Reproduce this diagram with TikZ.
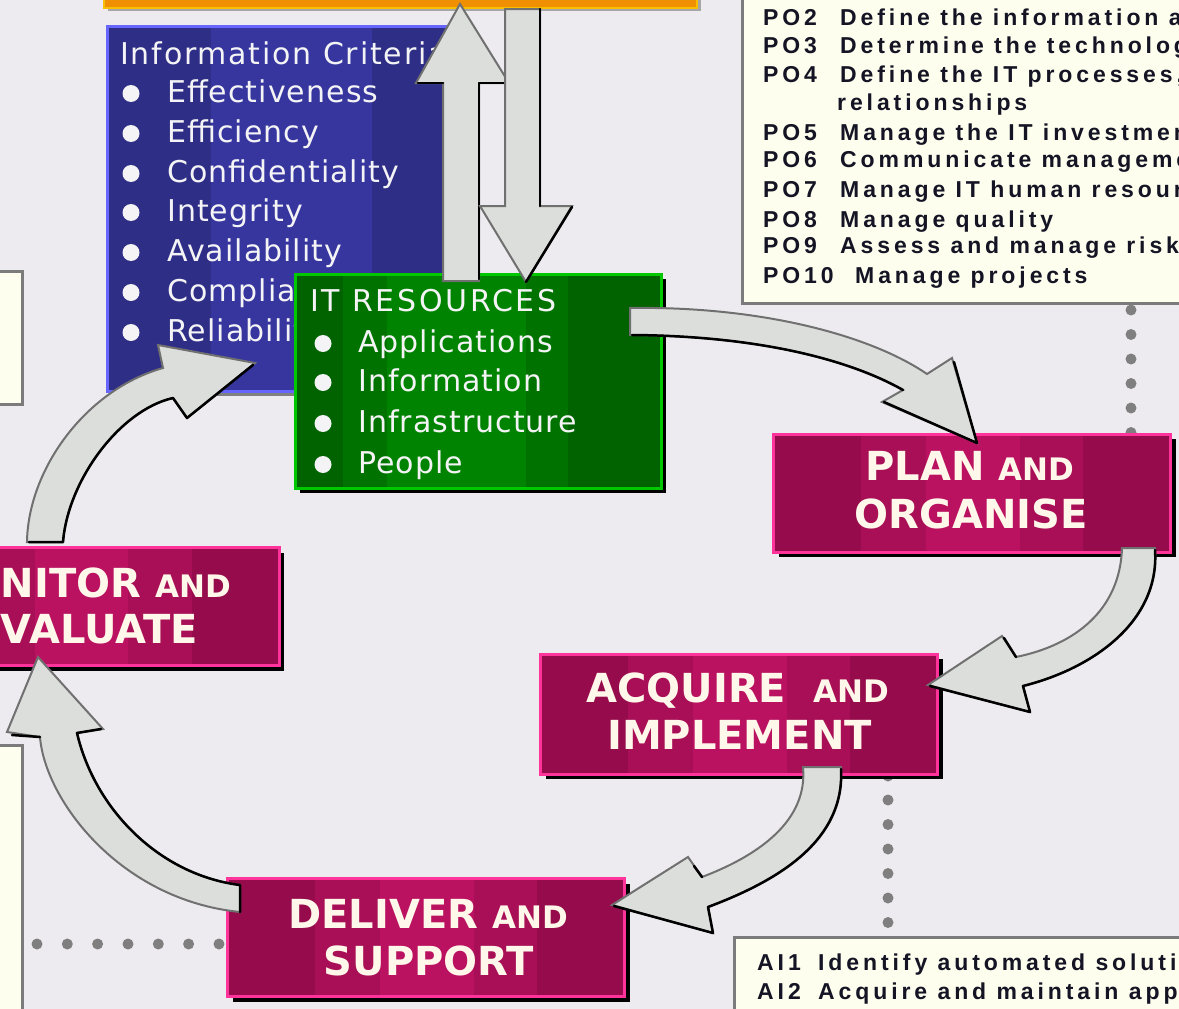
\documentclass[tikz,border=0pt]{standalone}
\usepackage{fontspec}
\setmainfont{DejaVu Sans}
\newfontfamily\dejavu[LetterSpace=3.5]{DejaVu Sans}
\newfontfamily\dejavuwide[LetterSpace=6]{DejaVu Sans}
\newfontfamily\dejavucaps[LetterSpace=9]{DejaVu Sans}
\newfontfamily\dejavuhead{DejaVu Sans}
\newfontfamily\libsans[LetterSpace=17]{Liberation Sans}
\usetikzlibrary{shadows,calc}
\definecolor{bg}{HTML}{EDEBEF}
\definecolor{cream}{HTML}{FDFEEE}
\definecolor{boxline}{HTML}{7B7B7B}
\definecolor{magdark}{HTML}{960B4C}
\definecolor{magmid}{HTML}{A80F56}
\definecolor{maglight}{HTML}{BA1160}
\definecolor{magline}{HTML}{FF3399}
\definecolor{grndark}{HTML}{006300}
\definecolor{grnmid}{HTML}{007200}
\definecolor{grnlight}{HTML}{008300}
\definecolor{grnline}{HTML}{00C800}
\definecolor{bludark}{HTML}{2E2E86}
\definecolor{blulight}{HTML}{36369E}
\definecolor{bluline}{HTML}{6666FF}
\definecolor{arrfill}{HTML}{DCDEDB}
\definecolor{arredge}{HTML}{707070}
\definecolor{dotgray}{HTML}{7F7F7F}
\definecolor{orng}{HTML}{F09000}
\definecolor{orngline}{HTML}{F8C000}
\definecolor{txtcream}{HTML}{FFF8EA}
\definecolor{listwhite}{HTML}{F4F4F6}
\definecolor{potext}{HTML}{141424}
\newcommand\listfont{\dejavu\fontsize{30}{36}\selectfont}
\newcommand\headfont{\dejavuhead\bfseries\fontsize{40}{48}\selectfont}
\newcommand\smallcp[1]{{\fontsize{31}{36}\selectfont #1}}
\newcommand\pofont{\libsans\bfseries\fontsize{23}{27}\selectfont}
\tikzset{
  bands/.style n args={7}{fill=#1, path picture={
    \fill[#2] ($(path picture bounding box.south west)!#4!(path picture bounding box.south east)$)
      rectangle ($(path picture bounding box.north west)!#7!(path picture bounding box.north east)$);
    \fill[#3] ($(path picture bounding box.south west)!#5!(path picture bounding box.south east)$)
      rectangle ($(path picture bounding box.north west)!#6!(path picture bounding box.north east)$);
  }},
  magbox/.style={draw=magline, line width=3pt, inner sep=0pt,
    minimum width=397pt, minimum height=118pt,
    drop shadow={shadow xshift=5pt, shadow yshift=-5pt, fill=black, opacity=1},
    bands={magdark}{magmid}{maglight}{0.22}{0.385}{0.62}{0.78}},
  creambox/.style={draw=boxline, fill=cream, line width=3pt, inner sep=0pt},
  lst/.style={font=\listfont, text=listwhite, inner sep=0pt, anchor=base west},
  head/.style={font=\headfont, text=txtcream, inner sep=0pt, anchor=base},
  potx/.style={font=\pofont, text=potext, inner sep=0pt, anchor=base west},
  bullet/.style={fill=listwhite},
  dot/.style={fill=dotgray},
  arrowshape/.style={fill=arrfill, draw=arredge, line width=2pt, line join=miter},
  shadowedge/.style={draw=black, line width=2.5pt, line cap=round, line join=round},
}
\begin{document}
\begin{tikzpicture}[x=1pt,y=-1pt]
\useasboundingbox (0,0) rectangle (1179,1009);
\begin{scope}
\clip (0,0) rectangle (1179,1009);
\fill[bg] (0,0) rectangle (1179,1009);

% orange bar at top
\node[fill=orng, draw=orngline, line width=2pt, minimum width=593pt, minimum height=18pt, inner sep=0pt,
  drop shadow={shadow xshift=4pt, shadow yshift=-3pt, fill=black!35, opacity=1}] (topbar) at (400.5,-1) {};

% cream text boxes
\node[creambox, minimum width=456pt, minimum height=322pt] (pobox) at (970.5,142.5) {};
\node[creambox, minimum width=41pt, minimum height=133pt] (leftA) at (2,338) {};
\node[creambox, minimum width=41pt, minimum height=283pt] (leftB) at (2,887) {};
\node[creambox, minimum width=464pt, minimum height=91pt] (aibox) at (966.5,983) {};

% PO list
\node[potx] (po2c) at (763,25) {PO2};  \node[potx] (po2t) at (840,25) {Define the information architecture};
\node[potx] (po3c) at (763,53) {PO3};  \node[potx] (po3t) at (840,53) {Determine the technological direction};
\node[potx] (po4c) at (763,82) {PO4};  \node[potx] (po4t) at (840,82) {Define the IT processes, organisation and};
\node[potx] (po4u) at (837,110) {relationships};
\node[potx] (po5c) at (763,140) {PO5}; \node[potx] (po5t) at (840,140) {Manage the IT investment};
\node[potx] (po6c) at (763,167) {PO6}; \node[potx] (po6t) at (840,167) {Communicate management aims and direction};
\node[potx] (po7c) at (763,197) {PO7}; \node[potx] (po7t) at (840,197) {Manage IT human resources};
\node[potx] (po8c) at (763,227) {PO8}; \node[potx] (po8t) at (840,227) {Manage quality};
\node[potx] (po9c) at (763,253) {PO9}; \node[potx] (po9t) at (840,253) {Assess and manage risks};
\node[potx] (po10c) at (763,283) {PO10}; \node[potx] (po10t) at (855,283) {Manage projects};

% AI list
\node[potx] (ai1c) at (757,970) {AI1}; \node[potx] (ai1t) at (818,970) {Identify automated solutions};
\node[potx] (ai2c) at (757,999) {AI2}; \node[potx] (ai2t) at (818,999) {Acquire and maintain application software};

% dotted lines
\foreach \yy in {310,334.5,359,383.5,408,432.5} \fill[dot] (1131,\yy) circle (5.5);
\foreach \yy in {776,800,824.5,849,873.5,898,922.5} \fill[dot] (888,\yy) circle (5.5);
\foreach \xx in {37,67.3,97.6,128,158.3,188.6,219} \fill[dot] (\xx,944) circle (5.5);

% information criteria box
\node[draw=bluline, line width=3pt, inner sep=0pt, minimum width=346pt, minimum height=365pt,
  drop shadow={shadow xshift=4pt, shadow yshift=-4pt, fill=black!50, opacity=1},
  bands={bludark}{blulight}{blulight}{0.30}{0.30}{0.765}{0.765}] (crit) at (280.5,209) {};
\node[lst, font=\dejavuwide\fontsize{30}{36}\selectfont] (crith) at (120,64) {Information Criteria};
\foreach \yy in {102,142,182,221,261,301,341} \fill[bullet] (131,\yy-8.5) circle (8.5);
\node[lst] (c1) at (167,102) {Effectiveness};
\node[lst] (c2) at (167,142) {Efficiency};
\node[lst] (c3) at (167,182) {Confidentiality};
\node[lst] (c4) at (167,221) {Integrity};
\node[lst] (c5) at (167,261) {Availability};
\node[lst] (c6) at (167,301) {Compliance};
\node[lst] (c7) at (167,341) {Reliability};

% IT resources box
\node[draw=grnline, line width=3pt, inner sep=0pt, minimum width=366pt, minimum height=214pt,
  drop shadow={shadow xshift=4pt, shadow yshift=-4pt, fill=black, opacity=1},
  bands={grndark}{grnmid}{grnlight}{0.13}{0.25}{0.63}{0.745}] (res) at (478.5,381.5) {};
\node[lst, font=\dejavucaps\fontsize{30}{36}\selectfont] (resh) at (310,311) {IT RESOURCES};
\foreach \yy in {352,391,432,473} \fill[bullet] (323,\yy-8.5) circle (8.5);
\node[lst] (r1) at (358,352) {Applications};
\node[lst] (r2) at (358,391) {Information};
\node[lst] (r3) at (358,432) {Infrastructure};
\node[lst] (r4) at (358,473) {People};

% straight arrows between resources and the top bar
\path[arrowshape] (443,281) -- (443,83) -- (416,83) -- (460,4) -- (509,83) -- (479,83) -- (479,281) -- cycle;
\draw[shadowedge] (418,83) -- (443,83);
\draw[shadowedge] (479,279) -- (479,83) -- (509,83);
\path[arrowshape] (505,9) -- (505,206) -- (480,206) -- (526,282) -- (572,206) -- (540,206) -- (540,9) -- cycle;
\draw[shadowedge] (540,9) -- (540,206);
\draw[shadowedge] (572,207) -- (526,282);

% domain boxes
\node[magbox] (plan) at (972,493) {};
\node[head] (planA) at (970,480) {PLAN \smallcp{AND}};
\node[head] (planB) at (971,528) {ORGANISE};
\node[magbox, minimum height=120pt] (acq) at (739,714) {};
\node[head] (acqA) at (738,702) {ACQUIRE\ \ \smallcp{AND}};
\node[head] (acqB) at (739.5,749) {IMPLEMENT};
\node[magbox] (dlv) at (426,937.5) {};
\node[head] (dlvA) at (428,928) {DELIVER \smallcp{AND}};
\node[head] (dlvB) at (429,975) {SUPPORT};
\node[magbox] (mon) at (80.5,606.5) {};
\node[head, anchor=base east] (monA) at (231,597) {MONITOR \smallcp{AND}};
\node[head, anchor=base east] (monB) at (198,643) {EVALUATE};

% curved arrows of the cycle
% resources -> plan
\path[arrowshape] (630,308) .. controls (760,306) and (870,335) .. (927,374) -- (952,358) -- (977,443)
  -- (882,402) -- (903,390) .. controls (850,360) and (760,336) .. (630,335) -- cycle;
\draw[shadowedge] (954,362) -- (977,443) -- (884,402);
\draw[shadowedge] (903,390) .. controls (850,360) and (760,336) .. (632,335);
% plan -> acquire
\path[arrowshape] (1122,548) .. controls (1120,610) and (1075,645) .. (1016,657) -- (1002,636) -- (928,685)
  -- (1030,712) -- (1023,686) .. controls (1095,668) and (1160,620) .. (1155,548) -- cycle;
\draw[shadowedge] (1004,638) -- (1016,657);
\draw[shadowedge] (930,686) -- (1030,712) -- (1023,686) .. controls (1095,668) and (1160,620) .. (1155,550);
% acquire -> deliver
\path[arrowshape] (803,767) .. controls (808,820) and (760,855) .. (702,877) -- (688,857) -- (612,905)
  -- (713,933) -- (708,907) .. controls (780,880) and (845,840) .. (841,767) -- cycle;
\draw[shadowedge] (694,866) -- (702,877);
\draw[shadowedge] (614,906) -- (713,933) -- (708,907) .. controls (780,880) and (845,840) .. (841,769);
% deliver -> monitor
\path[arrowshape] (240,885) .. controls (160,875) and (95,810) .. (77,733) -- (103,729) -- (38,657)
  -- (7,732) -- (40,737) .. controls (45,800) and (120,900) .. (240,912) -- cycle;
\draw[shadowedge] (240,912) -- (240,885) .. controls (160,875) and (95,810) .. (77,733) -- (101,729);
\draw[shadowedge] (12,735) -- (40,737);
% monitor -> criteria
\path[arrowshape] (27,542) .. controls (28,470) and (85,390) .. (163,368) -- (158,345) -- (255,363)
  -- (187,418) -- (173,398) .. controls (120,410) and (68,480) .. (63,542) -- cycle;
\draw[shadowedge] (253,365) -- (187,418) -- (173,398) .. controls (120,410) and (68,480) .. (63,542) -- (29,542);
\end{scope}
\end{tikzpicture}
\end{document}
